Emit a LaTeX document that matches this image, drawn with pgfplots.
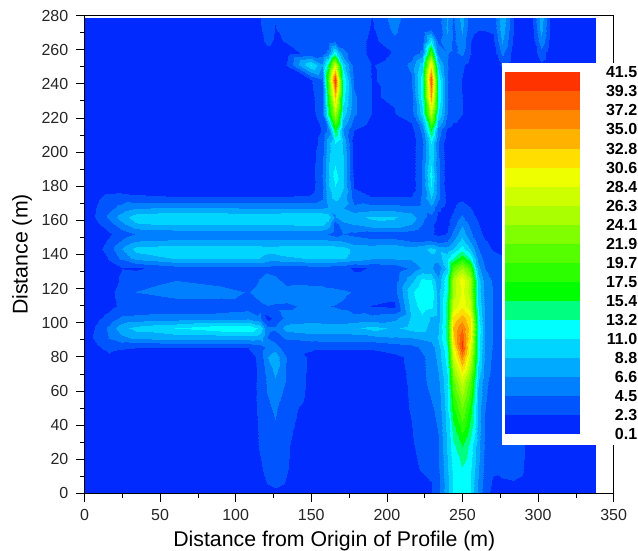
\documentclass[border=0pt]{standalone}
\usepackage{fontspec}
\setmainfont{Liberation Sans}
\usepackage{pgfplots}
\usepackage{pgfplotstable}
\pgfplotsset{compat=1.18}
\definecolor{b1}{RGB}{0,42,255}\definecolor{b2}{RGB}{0,85,255}\definecolor{b3}{RGB}{0,128,255}
\definecolor{b4}{RGB}{0,170,255}\definecolor{b5}{RGB}{0,213,255}\definecolor{b6}{RGB}{0,255,255}
\definecolor{b7}{RGB}{0,255,128}\definecolor{b8}{RGB}{0,255,0}\definecolor{b9}{RGB}{43,255,0}
\definecolor{b10}{RGB}{85,255,0}\definecolor{b11}{RGB}{128,255,0}\definecolor{b12}{RGB}{170,255,0}
\definecolor{b13}{RGB}{205,255,0}\definecolor{b14}{RGB}{238,255,0}\definecolor{b15}{RGB}{255,222,0}
\definecolor{b16}{RGB}{255,178,0}\definecolor{b17}{RGB}{255,136,0}\definecolor{b18}{RGB}{255,95,0}
\definecolor{b19}{RGB}{255,51,0}
\pgfplotstableread[header=has colnames]{
y 0 8 16 24 34 60 90 108 116 121 126 133 150 157 161 166 171 178 190 205 216 223 229 234 240 244 250 255 260 265 270 276 284 296 302 308 338
0 1 1 1 1 1 1 1 1 1 1 1.5 1 1 1 1 1 1 1 1 1 1 1.5 2.2 3.8 8 11.2 12.5 11 6.2 3 1.8 1.5 1.5 1.5 1.5 1.5 1
6 1 1 1 1 1 1 1 1 1.5 2.4 3 2.2 1 1 1 1 1 1 1 1 1 1.5 2.2 3.8 8 11 12.5 11 6.5 3.2 2 1.9 2.1 1.5 1.5 1.5 1
15 1 1 1 1 1 1 1 1 2 2.8 3.3 2.4 1 1 1 1 1 1 1 1 1.6 2.6 2.8 4 8.5 11.5 13 11.5 7 3.8 2.6 3 3 1.6 1.5 1.5 1
28 1 1 1 1 1 1 1 1 2.5 3.2 3.7 2.5 1 1 1 1 1 1 1 1 2 3 3.2 4.2 9 12.5 15.5 12.5 7.5 4 3 3.4 3.2 1.6 1.5 1.5 1
50 1 1 1 1 1 1 1 1 2.8 4 4.8 3 1.5 1 1 1 1 1 1 1.5 2.4 3.5 4.2 5 10 17 22 17 8 4.5 3.2 3 3 1.6 1.5 1.5 1
65 1 1 1 1 1 1 1 1.2 2.8 4.8 6.3 4.3 1.7 1 1 1 1 1 1 1.6 2.5 4 5 6 10.5 21 27 21 9 5 3.5 3 3 1.6 1.5 1.5 1
80 1 1 1.8 1 1 1 1 1 3 6.5 8 4.5 1.8 1.5 1.4 1.4 1.4 1.4 1.4 1.8 2.7 4.2 5 7.5 12 27 36 27 12 6 4 3 3 1.6 1.5 1.5 1
86 1 2 3 2.6 2.4 2.4 2.4 2.4 3.4 5 5.5 3.2 2.6 2.5 2.5 2.5 2.5 2.5 2.6 3.2 3.8 4.8 5.5 8 13 30 40 29 12 6.5 4.2 3 3 1.6 1.5 1.5 1
91 1 3 4.6 6 7 7.5 7.5 7.6 7.5 4.5 3.4 4.7 5.4 5.5 5.5 5.5 5.5 5.6 5.8 6.4 6.6 7 7.5 9 14 32 39 31 12 6.5 4.3 3 3 1.6 1.5 1.5 1
97 1 2.6 5 8 9.6 11 12.5 12.8 10.5 5 4.8 7.6 8.2 8.2 8 8 8 8.4 9.6 8.4 9.6 9.6 8 8.5 14.5 33 37 32 13 6.5 4.4 3 3 1.6 1.5 1.5 1
103 1 1.8 3 4.8 5 5.4 5.4 6 4.8 1.6 2.8 5 5.2 5 5 5 5 5 5.2 6 9 10.5 8.5 8 14 31 34 31 12 6.5 4.4 3 3 1.6 1.5 1.5 1
110 1 1 1.6 2.7 3 3 3.2 3.4 4 4.4 4.2 4.2 4.8 4.8 4.5 4.4 4.2 3.5 2.2 1.8 9.5 12.2 11.5 8 14 27 30 27 11 6 4.4 3 3 1.6 1.5 1.5 1
118 1 1 1.8 3 4.5 5.6 5.4 4.3 5.5 6 5.6 5.2 5.6 5.6 5.2 5 4.8 4.3 3.4 3.2 10.5 13 12.5 8 13 25 29 25 10 6 4.4 3 3 1.6 1.5 1.5 1
125 1 1 1.2 2.5 3.4 4.4 3.5 3 4.6 5.4 5 3.8 3.6 3.4 3.4 3.2 3.2 3 3 3.3 8 11.5 11 7 13 25 30 25 10 5.5 4.2 3 3 1.6 1.5 1.5 1
132 1 1 1.6 2.2 2 3.4 3.6 3.5 3.4 3.8 3.4 3.2 3.4 3.4 3.4 3.2 3 2 2.4 3 4.8 7 7 5 9.5 20 24 20 7.5 4.4 3.4 3 3 1.6 1.5 1.5 1
138 1 1 2.5 5 7.5 9 9 9 8.8 8 8 8.5 9 9.2 9 9 9 8 7 7 7 7.5 8 8 10 13 17 13 6 3.5 2.6 2.4 2.4 1.6 1.5 1.5 1
143 1 1.5 3.4 6.5 9.6 10.2 10 10 10 9.8 9.8 10 10 10 10 10 9.8 8.2 8 8.8 7.5 8 9.6 8.4 7.6 9 12 9 4.6 2.6 2.2 2 2 1.6 1.5 1.5 1
148 1 1 2.6 4.6 6.6 7 7 7 7 7 7 7 7 7 7 6.8 6.6 5.5 5 5 4.4 4.4 4.6 3.6 4.4 6.6 9.6 6.6 3.6 2.4 2 1.6 1.5 1.5 1.5 1.5 1
152 1 1 2 3.2 4.6 5 5 5 5 5 5 5 5 4.8 4.4 3.4 4.5 4 3.4 3.4 3 2.8 2.6 1.8 2.4 5 8 5 3 1.8 1.4 1.2 1.2 1.2 1.2 1.2 1
158 1 2 3.4 6 8.6 9.2 9.2 9.2 9.2 9.2 9.2 9.2 9.4 9.4 8 3.5 6 6.8 8.2 8.4 6.8 4.6 2.6 1.6 1.6 3.4 6.4 4 2.4 1.4 1.2 1 1 1 1 1 1
162 1 2.6 5 7.6 10 10.6 10.6 10.4 10.4 10.4 10.4 10.6 10.8 10.8 10 6.5 8 8.2 9.2 9 8 5 3.8 1.8 1.6 2.6 4.8 3 2 1.2 1 1 1 1 1 1 1
167 1 2.4 3.8 5.2 6.6 6.7 6.7 6.6 6.6 6.6 6.6 6.6 6.6 6.6 6.8 7 6.8 5 5.5 5.6 5 5 6 2.6 1.5 2 3.4 2.4 1.4 1 1 1 1 1 1 1 1
173 1 2 3 3.2 2.8 2.5 2.4 2.4 2.4 2.4 2.4 2.5 2.6 4.2 8 9.5 8 3.5 2.4 2.4 2.4 4.8 9 5 1.6 1.4 1.8 1.4 1 1 1 1 1 1 1 1 1
180 1 1 1 1 1 1 1 1 1 1 1 1 1.4 4 8.5 11 9 2 1 1 1 4.5 11 5 1 1 1 1 1 1 1 1 1 1 1 1 1
186 1 1 1 1 1 1 1 1 1 1 1 1 1.3 4.5 8.5 12 9 1.6 1 1 1 4.5 12 5 1 1 1 1 1 1 1 1 1 1 1 1 1
195 1 1 1 1 1 1 1 1 1 1 1 1 1.2 4 8.5 10.5 9 1.4 1 1 1 4.5 10.5 5 1 1 1 1 1 1 1 1 1 1 1 1 1
205 1 1 1 1 1 1 1 1 1 1 1 1 1.1 3 8 11 8.5 1.3 1 1 1 4 11 4.5 1 1 1 1 1 1 1 1 1 1 1 1 1
213 1 1 1 1 1 1 1 1 1 1 1 1 1.2 2.4 5 16 6.5 2.3 1 1 1.5 5 16 6 2 1.4 1 1 1 1 1 1 1 1 1 1 1
222 1 1 1 1 1 1 1 1 1 1 1 1 1.6 3.4 14 25 10 4.8 2.2 2.2 3.2 10 26 11 4.6 3.4 2.3 1.2 1 1 1 1 1 1 1 1 1
232 1 1 1 1 1 1 1 1 1 1 1 1 1.8 3.5 17 33 12 4.8 2.2 2.4 3.4 12 35 13 4.6 3.4 2.3 1.2 1 1 1 1 1 1 1 1 1
242 1 1 1 1 1 1 1 1 1 1 1 1 2.2 4 20 41 13 4 2.2 2.6 4 12 39 13 4.6 3.6 2.2 1.2 1 1 1 1 1 1 1 1 1
251 1 1 1 1 1 1 1 1 1 1 1.2 2.3 11 7 14 28 10 3.6 2.2 2.8 5 10 31 10 4.6 3.6 2.6 1.5 1 1 1 2.6 1 1 2 1 1
258 1 1 1 1 1 1 1 1 1 1.5 1.5 1.4 3 3.4 5 12 5 3.6 1.6 2.4 3 5 20 6 4.6 4 5 2.4 1.2 1 1 5 1 1 3.5 1 1
265 1 1 1 1 1 1 1 1 1.6 2.8 2 2.4 2.8 3 3 4 3.6 3.6 1.6 4 2.6 3 11 4 6 4 6 2.4 1.4 1.2 1.8 7 1.6 1.2 6 1.6 1
272 1 1 1 1 1 1 1 1 2 3.4 2.2 3 3 3.2 3 3 3.6 4 2 5 2.4 2.4 4 3 7 4 7 3 2.4 2.4 2.6 8 2 1.6 7.5 2 1
278.5 1 1 1 1 1 1 1 1 2.2 3.6 2.4 3.2 3.2 3.4 3.2 3.2 4 4.2 2.2 5.5 2.6 2.6 4 3.2 7 4.2 7.5 3.2 2.6 2.6 2.8 8.5 2.2 1.8 8 2.2 1
}\ZT
\newtoks\coords
\pgfplotsforeachungrouped \r in {0,...,35}{%
  \pgfplotstablegetelem{\r}{y}\of\ZT \let\Y\pgfplotsretval
  \pgfplotsforeachungrouped \c in {1,...,37}{%
    \pgfplotstablegetcolumnnamebyindex{\c}\of\ZT\to\X
    \pgfplotstablegetelem{\r}{[index]\c}\of\ZT
    \edef\tmp{\the\coords(\X,\Y,\pgfplotsretval)}%
    \global\coords\expandafter{\tmp}%
  }%
}
\begin{document}
\begin{tikzpicture}[x=1pt,y=1pt]
\useasboundingbox (0,0) rectangle (638,551);
\begin{axis}[at={(84.5pt,57.7pt)},anchor=south west,width=529.2pt,height=477.8pt,scale only axis,
  view={0}{90},axis on top,
  xmin=0,xmax=350,ymin=0,ymax=280,
  xtick={0,50,...,350},ytick={0,20,...,280},minor x tick num=1,minor y tick num=1,
  tick align=outside,xtick pos=bottom,ytick pos=left,
  major tick length=8.5pt,minor tick length=4.5pt,
  tick style={black,line width=0.7pt},axis line style={line width=0.8pt},
  /pgf/number format/assume math mode=true,/pgf/number format/set thousands separator={},
  tick label style={font=\fontsize{16}{18}\selectfont,inner sep=0pt,text=black!85},
  xticklabel shift=7pt,yticklabel shift=7.5pt,
  every axis x label/.style={at={(axis description cs:0.472,-0.1)},anchor=center},
  every axis y label/.style={at={(axis description cs:-0.118,0.5)},rotate=90,anchor=center},
  label style={font=\fontsize{21.3}{24}\selectfont},
  xlabel={Distance from Origin of Profile (m)},ylabel={Distance (m)},
  colormap={zones}{rgb255(0)=(0,42,255) rgb255(1)=(0,85,255) rgb255(2)=(0,128,255) rgb255(3)=(0,170,255) rgb255(4)=(0,213,255) rgb255(5)=(0,255,255) rgb255(6)=(0,255,128) rgb255(7)=(0,255,0) rgb255(8)=(43,255,0) rgb255(9)=(85,255,0) rgb255(10)=(128,255,0) rgb255(11)=(170,255,0) rgb255(12)=(205,255,0) rgb255(13)=(238,255,0) rgb255(14)=(255,222,0) rgb255(15)=(255,178,0) rgb255(16)=(255,136,0) rgb255(17)=(255,95,0) rgb255(18)=(255,51,0) rgb255(19)=(255,51,0)},
  colormap access=piecewise constant,point meta min=0.1,point meta max=41.5]
\edef\tmpplot{\noexpand\addplot3[surf,shader=interp,mesh/cols=37] coordinates {\the\coords};}
\tmpplot
\end{axis}
\fill[white] (502,106) rectangle (616,488.3);
\begin{axis}[at={(505pt,116.7pt)},anchor=south west,width=75pt,height=362pt,scale only axis,
  xmin=0,xmax=1,ymin=0,ymax=19,xtick=\empty,
  ytick={0,1,...,19},yticklabels={0.1,2.3,4.5,6.6,8.8,11.0,13.2,15.4,17.5,19.7,21.9,24.1,26.3,28.4,30.6,32.8,35.0,37.2,39.3,41.5},
  yticklabel pos=right,major tick length=0pt,tick style={draw=none},axis line style={draw=none},
  yticklabel style={font=\fontsize{16}{18}\selectfont\bfseries,inner sep=0pt,text width=32.5pt,align=right,anchor=west},
  yticklabel shift=24.5pt,clip=false]
\addplot[fill=b1,draw=none] coordinates {(0,0)(1,0)(1,1)(0,1)} -- cycle;
\addplot[fill=b2,draw=none] coordinates {(0,1)(1,1)(1,2)(0,2)} -- cycle;
\addplot[fill=b3,draw=none] coordinates {(0,2)(1,2)(1,3)(0,3)} -- cycle;
\addplot[fill=b4,draw=none] coordinates {(0,3)(1,3)(1,4)(0,4)} -- cycle;
\addplot[fill=b5,draw=none] coordinates {(0,4)(1,4)(1,5)(0,5)} -- cycle;
\addplot[fill=b6,draw=none] coordinates {(0,5)(1,5)(1,6)(0,6)} -- cycle;
\addplot[fill=b7,draw=none] coordinates {(0,6)(1,6)(1,7)(0,7)} -- cycle;
\addplot[fill=b8,draw=none] coordinates {(0,7)(1,7)(1,8)(0,8)} -- cycle;
\addplot[fill=b9,draw=none] coordinates {(0,8)(1,8)(1,9)(0,9)} -- cycle;
\addplot[fill=b10,draw=none] coordinates {(0,9)(1,9)(1,10)(0,10)} -- cycle;
\addplot[fill=b11,draw=none] coordinates {(0,10)(1,10)(1,11)(0,11)} -- cycle;
\addplot[fill=b12,draw=none] coordinates {(0,11)(1,11)(1,12)(0,12)} -- cycle;
\addplot[fill=b13,draw=none] coordinates {(0,12)(1,12)(1,13)(0,13)} -- cycle;
\addplot[fill=b14,draw=none] coordinates {(0,13)(1,13)(1,14)(0,14)} -- cycle;
\addplot[fill=b15,draw=none] coordinates {(0,14)(1,14)(1,15)(0,15)} -- cycle;
\addplot[fill=b16,draw=none] coordinates {(0,15)(1,15)(1,16)(0,16)} -- cycle;
\addplot[fill=b17,draw=none] coordinates {(0,16)(1,16)(1,17)(0,17)} -- cycle;
\addplot[fill=b18,draw=none] coordinates {(0,17)(1,17)(1,18)(0,18)} -- cycle;
\addplot[fill=b19,draw=none] coordinates {(0,18)(1,18)(1,19)(0,19)} -- cycle;
\end{axis}
\end{tikzpicture}
\end{document}
